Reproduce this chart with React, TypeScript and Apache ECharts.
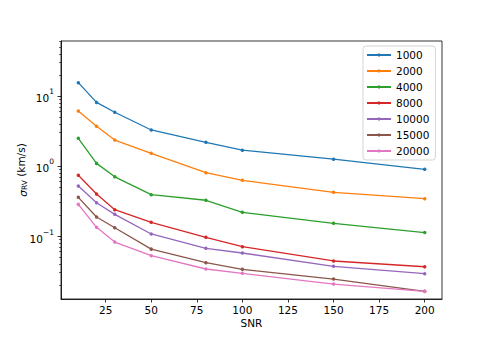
import React, { useEffect, useRef } from "react";
import * as echarts from "echarts";

const snr = [10, 20, 30, 50, 80, 100, 150, 200];
const seriesNames = ["1000", "2000", "4000", "8000", "10000", "15000", "20000"];
const sigma1000 = [15.5, 8.1, 5.85, 3.27, 2.18, 1.68, 1.25, 0.896];
const sigma2000 = [6.1, 3.69, 2.35, 1.52, 0.803, 0.624, 0.421, 0.341];
const sigma4000 = [2.49, 1.09, 0.70, 0.389, 0.324, 0.218, 0.152, 0.112];
const sigma8000 = [0.736, 0.398, 0.238, 0.157, 0.0958, 0.0704, 0.044, 0.0364];
const sigma10000 = [0.518, 0.299, 0.204, 0.107, 0.0667, 0.0572, 0.0369, 0.029];
const sigma15000 = [0.357, 0.187, 0.131, 0.065, 0.0416, 0.0334, 0.0243, 0.0162];
const sigma20000 = [0.283, 0.133, 0.082, 0.0523, 0.0338, 0.0293, 0.0206, 0.0162];
const allSigma = [sigma1000, sigma2000, sigma4000, sigma8000, sigma10000, sigma15000, sigma20000];
const colors = ["#1f77b4", "#ff7f0e", "#2ca02c", "#d62728", "#9467bd", "#8c564b", "#e377c2"];
const xTicks = [25, 50, 75, 100, 125, 150, 175, 200];
const yMajorExponents = [-1, 0, 1];
const yMin = 0.0126;
const yMax = 61;
const xMin = 0.5;
const xMax = 209.5;

const FONT = "DejaVu Sans";

export default function App() {
  const ref = useRef<HTMLDivElement>(null);
  useEffect(() => {
    if (!ref.current) return;
    const chart = echarts.init(ref.current, undefined, { renderer: "svg" });
    const minorTicks: number[] = [];
    for (let n = -2; n <= 1; n++) {
      for (let k = 2; k <= 9; k++) {
        const v = k * Math.pow(10, n);
        if (v > yMin && v < yMax) minorTicks.push(Math.log10(v));
      }
    }
    const lmin = Math.log10(yMin);
    const lmax = Math.log10(yMax);
    chart.setOption({
      animation: false,
      backgroundColor: "#ffffff",
      textStyle: { fontFamily: FONT },
      grid: {
        left: 61,
        right: 49,
        top: 41,
        bottom: 44,
        show: true,
        borderColor: "#000",
        borderWidth: 0.8,
        backgroundColor: "transparent",
      },
      legend: {
        orient: "vertical",
        left: 363,
        top: 46,
        padding: [3, 6, 3, 3],
        itemWidth: 24,
        itemHeight: 4,
        itemGap: 4,
        backgroundColor: "rgba(255,255,255,0.8)",
        borderColor: "#d5d5d5",
        borderWidth: 1,
        borderRadius: 3,
        textStyle: { fontFamily: FONT, fontSize: 10.5, color: "#000", lineHeight: 12 },
        data: seriesNames,
      },
      xAxis: {
        type: "value",
        min: xMin,
        max: xMax,
        name: "SNR",
        nameLocation: "middle",
        nameGap: 18,
        nameMoveOverlap: false,
        nameTextStyle: { fontFamily: FONT, fontSize: 10.5, color: "#000" },
        splitLine: { show: false },
        axisLine: { show: true, onZero: false, lineStyle: { color: "#000", width: 0.8 } },
        axisTick: { show: true, length: 3.5, customValues: xTicks, lineStyle: { color: "#000", width: 0.8 } },
        axisLabel: {
          customValues: xTicks,
          fontFamily: FONT,
          fontSize: 10.5,
          color: "#000",
          margin: 5,
        },
      },
      yAxis: [
        {
          type: "value",
          min: lmin,
          max: lmax,
          position: "left",
          name: "{i|σ}{sub|RV} (km/s)",
          nameLocation: "middle",
          nameGap: 33,
          nameMoveOverlap: false,
          nameRotate: 90,
          nameTextStyle: {
            fontFamily: FONT,
            fontSize: 10.5,
            color: "#000",
            rich: {
              i: { fontFamily: FONT, fontSize: 10.5, fontStyle: "italic", color: "#000", verticalAlign: "bottom", lineHeight: 14 },
              sub: { fontFamily: FONT, fontSize: 7.5, color: "#000", verticalAlign: "bottom", lineHeight: 11 },
            },
          },
          splitLine: { show: false },
          axisLine: { show: true, onZero: false, lineStyle: { color: "#000", width: 0.8 } },
          axisTick: {
            show: true,
            length: 3.5,
            customValues: yMajorExponents,
            lineStyle: { color: "#000", width: 0.8 },
          },
          axisLabel: {
            customValues: yMajorExponents,
            margin: 7,
            formatter: (v: number) => {
              const n = Math.round(v);
              const s = n < 0 ? "\u2212" + Math.abs(n) : String(n);
              return "{b|10}{s|" + s + "}";
            },
            rich: {
              b: { fontFamily: FONT, fontSize: 10.5, color: "#000", verticalAlign: "bottom", lineHeight: 16 },
              s: { fontFamily: FONT, fontSize: 7.5, color: "#000", verticalAlign: "top", lineHeight: 16 },
            },
          },
        },
        {
          type: "value",
          min: lmin,
          max: lmax,
          position: "left",
          offset: 0,
          splitLine: { show: false },
          axisLine: { show: false, onZero: false },
          axisLabel: { show: false },
          axisTick: {
            show: true,
            length: 2,
            customValues: minorTicks,
            lineStyle: { color: "#000", width: 0.6 },
          },
        },
      ],
      series: seriesNames.map((name, i) => ({
        name,
        type: "line",
        yAxisIndex: 0,
        data: snr.map((x, j) => [x, Math.log10(allSigma[i][j])]),
        symbol: "circle",
        symbolSize: 3.5,
        showSymbol: true,
        color: colors[i],
        lineStyle: { color: colors[i], width: 1.3 },
        itemStyle: { color: colors[i] },
      })),
    });
    return () => chart.dispose();
  }, []);
  return (
    <div
      ref={ref}
      style={{ position: "fixed", left: 0, top: 0, width: 491, height: 343, background: "#fff" }}
    />
  );
}
